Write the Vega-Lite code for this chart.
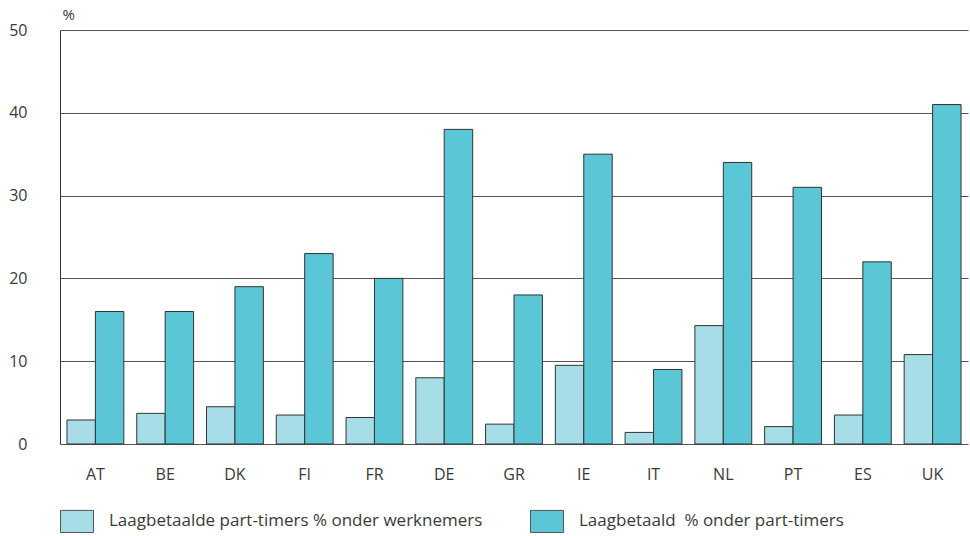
{
  "$schema": "https://vega.github.io/schema/vega-lite/v6.json",
  "autosize": {"type": "none"},
  "width": 908,
  "height": 414,
  "padding": {"left": 60, "top": 30, "right": 2, "bottom": 92},
  "background": "white",
  "config": {
    "font": "Open Sans",
    "view": {"stroke": null},
    "axis": {"labelFont": "Open Sans", "labelFontSize": 16, "labelColor": "#3a3a3a", "titleFont": "Open Sans"},
    "legend": {"labelFont": "Open Sans", "labelFontSize": 17, "labelColor": "#3a3a3a"}
  },
  "data": {
    "values": [
      {"land": "AT", "reeks": "Laagbetaalde part-timers % onder werknemers", "waarde": 2.9},
      {"land": "AT", "reeks": "Laagbetaald\u00a0 % onder part-timers", "waarde": 16},
      {"land": "BE", "reeks": "Laagbetaalde part-timers % onder werknemers", "waarde": 3.7},
      {"land": "BE", "reeks": "Laagbetaald\u00a0 % onder part-timers", "waarde": 16},
      {"land": "DK", "reeks": "Laagbetaalde part-timers % onder werknemers", "waarde": 4.5},
      {"land": "DK", "reeks": "Laagbetaald\u00a0 % onder part-timers", "waarde": 19},
      {"land": "FI", "reeks": "Laagbetaalde part-timers % onder werknemers", "waarde": 3.5},
      {"land": "FI", "reeks": "Laagbetaald\u00a0 % onder part-timers", "waarde": 23},
      {"land": "FR", "reeks": "Laagbetaalde part-timers % onder werknemers", "waarde": 3.2},
      {"land": "FR", "reeks": "Laagbetaald\u00a0 % onder part-timers", "waarde": 20},
      {"land": "DE", "reeks": "Laagbetaalde part-timers % onder werknemers", "waarde": 8.0},
      {"land": "DE", "reeks": "Laagbetaald\u00a0 % onder part-timers", "waarde": 38},
      {"land": "GR", "reeks": "Laagbetaalde part-timers % onder werknemers", "waarde": 2.4},
      {"land": "GR", "reeks": "Laagbetaald\u00a0 % onder part-timers", "waarde": 18},
      {"land": "IE", "reeks": "Laagbetaalde part-timers % onder werknemers", "waarde": 9.5},
      {"land": "IE", "reeks": "Laagbetaald\u00a0 % onder part-timers", "waarde": 35},
      {"land": "IT", "reeks": "Laagbetaalde part-timers % onder werknemers", "waarde": 1.4},
      {"land": "IT", "reeks": "Laagbetaald\u00a0 % onder part-timers", "waarde": 9},
      {"land": "NL", "reeks": "Laagbetaalde part-timers % onder werknemers", "waarde": 14.3},
      {"land": "NL", "reeks": "Laagbetaald\u00a0 % onder part-timers", "waarde": 34},
      {"land": "PT", "reeks": "Laagbetaalde part-timers % onder werknemers", "waarde": 2.1},
      {"land": "PT", "reeks": "Laagbetaald\u00a0 % onder part-timers", "waarde": 31},
      {"land": "ES", "reeks": "Laagbetaalde part-timers % onder werknemers", "waarde": 3.5},
      {"land": "ES", "reeks": "Laagbetaald\u00a0 % onder part-timers", "waarde": 22},
      {"land": "UK", "reeks": "Laagbetaalde part-timers % onder werknemers", "waarde": 10.8},
      {"land": "UK", "reeks": "Laagbetaald\u00a0 % onder part-timers", "waarde": 41}
    ]
  },
  "mark": {"type": "bar", "stroke": "#333333", "strokeWidth": 1},
  "encoding": {
    "x": {
      "field": "land",
      "type": "nominal",
      "sort": null,
      "scale": {"paddingInner": 0.185, "paddingOuter": 0.1},
      "axis": {"title": null, "labelAngle": 0, "ticks": false, "domain": false, "labelPadding": 22, "grid": false}
    },
    "xOffset": {
      "field": "reeks",
      "type": "nominal",
      "sort": ["Laagbetaalde part-timers % onder werknemers", "Laagbetaald\u00a0 % onder part-timers"]
    },
    "y": {
      "field": "waarde",
      "type": "quantitative",
      "scale": {"domain": [0, 50]},
      "axis": {
        "values": [0, 10, 20, 30, 40, 50],
        "title": "%",
        "titleAngle": 0,
        "titleAlign": "left",
        "titleBaseline": "bottom",
        "titleX": 2,
        "titleY": -8,
        "titleFontSize": 15,
        "titleFontWeight": "normal",
        "titleColor": "#3a3a3a",
        "ticks": false,
        "labelPadding": 33,
        "domain": true,
        "domainColor": "#333333",
        "grid": true,
        "gridColor": "#555555",
        "gridWidth": 1
      }
    },
    "color": {
      "field": "reeks",
      "type": "nominal",
      "sort": ["Laagbetaalde part-timers % onder werknemers", "Laagbetaald\u00a0 % onder part-timers"],
      "scale": {
        "domain": ["Laagbetaalde part-timers % onder werknemers", "Laagbetaald\u00a0 % onder part-timers"],
        "range": ["#a6dde6", "#5ac6d6"]
      },
      "legend": {
        "title": null,
        "orient": "none",
        "legendX": 0,
        "legendY": 474,
        "direction": "horizontal",
        "columns": 2,
        "columnPadding": 45,
        "symbolType": "M-1,-0.67H1V0.67H-1Z",
        "symbolSize": 1089,
        "symbolStrokeColor": "#555555",
        "symbolStrokeWidth": 1,
        "symbolOpacity": 1,
        "labelOffset": 15,
        "labelLimit": 500
      }
    }
  }
}
